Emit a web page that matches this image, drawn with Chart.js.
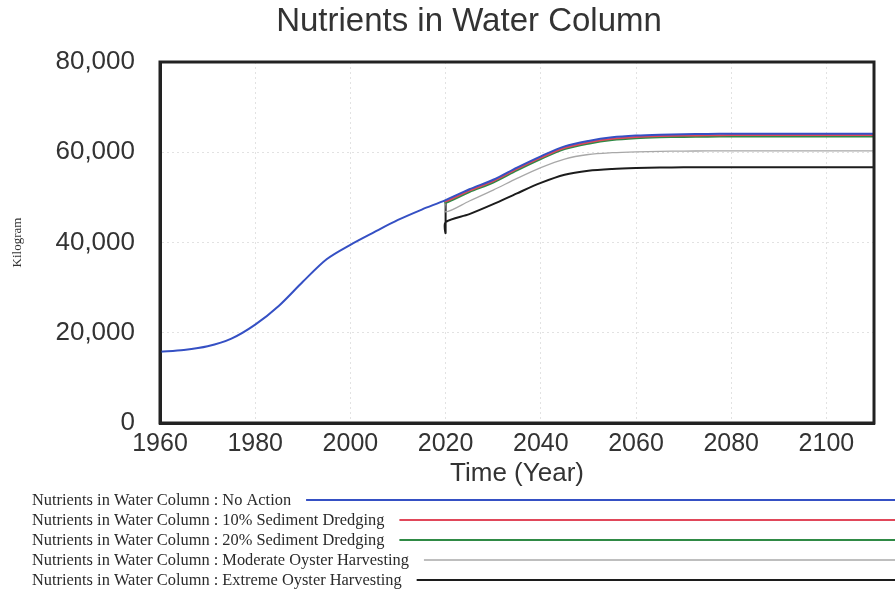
<!DOCTYPE html>
<html>
<head>
<meta charset="utf-8">
<script src="https://cdn.jsdelivr.net/npm/chart.js@4/dist/chart.umd.min.js"></script>
<style>
  html, body { margin: 0; padding: 0; background: #ffffff; }
  canvas { display: block; }
</style>
</head>
<body>
<canvas id="chart" width="895" height="590"></canvas>
<script>
// Simulated nutrient load (kg) in the water column, 1960-2110
const years = [1960, 1965, 1970, 1975, 1980, 1985, 1990, 1995, 2000, 2005, 2010,
               2015, 2020, 2025, 2030, 2035, 2040, 2045, 2050, 2055, 2060, 2065,
               2070, 2075, 2080, 2085, 2090, 2095, 2100, 2105, 2110];
const noAction = [15800, 16200, 17000, 18700, 21800, 26000, 31300, 36300, 39500, 42300, 45000,
                  47300, 49400, 51800, 53900, 56600, 59100, 61300, 62500, 63300, 63700, 63900,
                  64000, 64050, 64100, 64100, 64100, 64100, 64100, 64100, 64100];

// Policy scenarios branch off the baseline in 2020
const scenarioYears = [2020, 2025, 2030, 2035, 2040, 2045, 2050, 2055, 2060, 2065,
                       2070, 2075, 2080, 2085, 2090, 2095, 2100, 2105, 2110];
const dredging10 = [49100, 51500, 53600, 56300, 58800, 61000, 62200, 63000, 63400, 63600,
                    63700, 63750, 63800, 63800, 63800, 63800, 63800, 63800, 63800];
const dredging20 = [48800, 51200, 53300, 56000, 58500, 60700, 61900, 62700, 63100, 63300,
                    63400, 63450, 63500, 63500, 63500, 63500, 63500, 63500, 63500];
const moderateOyster = [46800, 49200, 51600, 54200, 56600, 58500, 59500, 59900, 60100, 60200,
                        60250, 60300, 60300, 60300, 60300, 60300, 60300, 60300, 60300];
const extremeOyster = [44500, 46300, 48500, 50900, 53200, 55000, 55900, 56300, 56500, 56600,
                       56650, 56700, 56700, 56700, 56700, 56700, 56700, 56700, 56700];
// lowest value reached in the switch-over step at 2020 (extreme harvesting only)
const extremeStepLow = 42100;

const chartTitle = 'Nutrients in Water Column';
const seriesNames = [
  'Nutrients in Water Column : No Action',
  'Nutrients in Water Column : 10% Sediment Dredging',
  'Nutrients in Water Column : 20% Sediment Dredging',
  'Nutrients in Water Column : Moderate Oyster Harvesting',
  'Nutrients in Water Column : Extreme Oyster Harvesting'
];
const seriesColors = ['#3550c4', '#e0485a', '#2f8a45', '#a8a8a8', '#1c1c1c'];
const seriesWidths = [2, 2, 2, 1.3, 2];

const yTicks = [0, 20000, 40000, 60000, 80000];
const xTicks = [1960, 1980, 2000, 2020, 2040, 2060, 2080, 2100];

const baselineAt2020 = noAction[years.indexOf(2020)];

function pairs(xs, ys) {
  return xs.map((x, i) => ({ x: x, y: ys[i] }));
}
// scenario curve: vertical step from the baseline, then its own path
function scenario(values, stepLow) {
  const pts = [{ x: scenarioYears[0], y: baselineAt2020 }];
  if (stepLow !== undefined) pts.push({ x: scenarioYears[0], y: stepLow });
  return pts.concat(pairs(scenarioYears, values));
}

const seriesData = [
  pairs(years, noAction),
  scenario(dredging10),
  scenario(dredging20),
  scenario(moderateOyster),
  scenario(extremeOyster, extremeStepLow)
];

const datasets = seriesData.map((d, i) => ({
  label: seriesNames[i],
  data: d,
  borderColor: seriesColors[i],
  backgroundColor: seriesColors[i],
  borderWidth: seriesWidths[i],
  pointRadius: 0,
  tension: 0.3,
  fill: false
}));

const sans = '"Liberation Sans", Arial, sans-serif';
const serif = '"Liberation Serif", "Times New Roman", serif';

// Heading, placed a little right of the canvas centre
const headingPlugin = {
  id: 'heading',
  afterDraw(chart) {
    const { ctx } = chart;
    ctx.save();
    ctx.font = '33px ' + sans;
    ctx.fillStyle = '#333333';
    ctx.textAlign = 'center';
    ctx.textBaseline = 'middle';
    ctx.fillText(chartTitle, 469, 22);
    ctx.restore();
  }
};

// Plot frame drawn around the chart area
const framePlugin = {
  id: 'frame',
  afterDatasetsDraw(chart) {
    const { ctx, chartArea: a } = chart;
    ctx.save();
    ctx.strokeStyle = '#222222';
    ctx.lineWidth = 3;
    ctx.strokeRect(a.left, a.top, a.right - a.left, a.bottom - a.top);
    ctx.restore();
  }
};

// Legend below the plot: series name followed by a long sample line
const lineLegendPlugin = {
  id: 'lineLegend',
  afterDraw(chart) {
    const { ctx } = chart;
    ctx.save();
    ctx.font = '16.4px ' + serif;
    ctx.textBaseline = 'middle';
    ctx.fillStyle = '#2a2a2a';
    chart.data.datasets.forEach((ds, i) => {
      const y = 500 + i * 20;
      const x = 32;
      ctx.fillText(ds.label, x, y + 1);
      const w = ctx.measureText(ds.label).width;
      ctx.beginPath();
      ctx.strokeStyle = ds.borderColor;
      ctx.lineWidth = ds.borderWidth;
      ctx.moveTo(x + w + 15, y);
      ctx.lineTo(chart.width, y);
      ctx.stroke();
    });
    ctx.restore();
  }
};

new Chart(document.getElementById('chart'), {
  type: 'line',
  data: { datasets: datasets },
  plugins: [framePlugin, lineLegendPlugin, headingPlugin],
  options: {
    responsive: false,
    animation: false,
    locale: 'en-US',
    layout: { padding: { left: 0, right: 21, top: 62, bottom: 103 } },
    plugins: {
      legend: { display: false },
      tooltip: { enabled: false },
      title: { display: false }
    },
    scales: {
      x: {
        type: 'linear',
        min: 1960,
        max: 2110,
        afterBuildTicks(scale) {
          scale.ticks = xTicks.map(v => ({ value: v }));
        },
        ticks: {
          includeBounds: false,
          color: '#333333',
          font: { family: sans, size: 25 },
          padding: 6,
          maxRotation: 0,
          callback: v => String(v)
        },
        grid: {
          color: '#e2e2e2',
          drawTicks: false,
          tickLength: 0
        },
        border: { display: true, color: '#222222', width: 3, dash: [2, 3] },
        title: {
          display: true,
          text: 'Time (Year)',
          color: '#333333',
          font: { family: sans, size: 26, lineHeight: 1 },
          padding: { top: -4, bottom: 0 }
        }
      },
      y: {
        type: 'linear',
        min: 0,
        max: 80000,
        afterBuildTicks(scale) {
          scale.ticks = yTicks.map(v => ({ value: v }));
        },
        afterFit(scale) { scale.width = 160; },
        ticks: {
          color: '#333333',
          font: { family: sans, size: 26 },
          padding: 25
        },
        grid: {
          color: '#e2e2e2',
          drawTicks: false,
          tickLength: 0
        },
        border: { display: true, color: '#222222', width: 3, dash: [2, 3] },
        title: {
          display: true,
          text: 'Kilogram',
          color: '#333333',
          font: { family: serif, size: 13, lineHeight: 1 },
          padding: { top: 11, bottom: 0 }
        }
      }
    }
  }
});
</script>
</body>
</html>
